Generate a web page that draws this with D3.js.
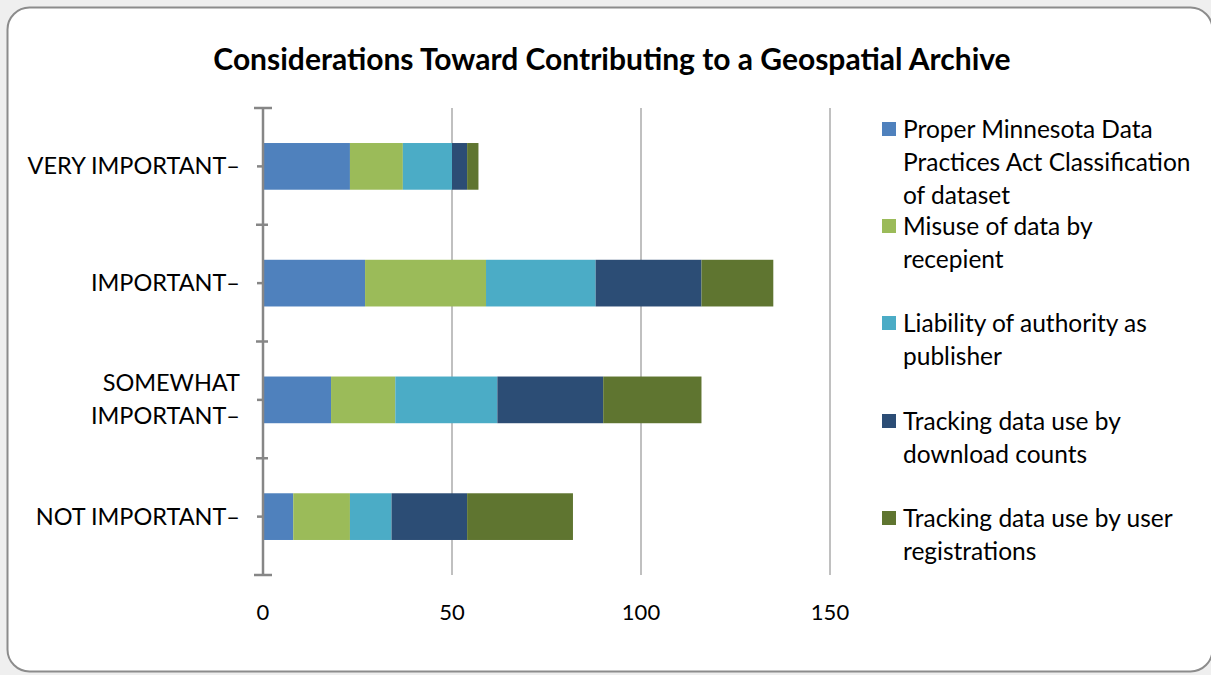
<!DOCTYPE html>
<html><head><meta charset="utf-8">
<script src="https://cdn.jsdelivr.net/npm/d3@7"></script>
<style>body{margin:0;background:#efefef;}svg{display:block;}</style>
</head><body>
<svg id="c" width="1211" height="675"></svg>
<script>
const categories = ["VERY IMPORTANT", "IMPORTANT", "SOMEWHAT IMPORTANT", "NOT IMPORTANT"];
const seriesNames = [
  "Proper Minnesota Data Practices Act Classification of dataset",
  "Misuse of data by recepient",
  "Liability of authority as publisher",
  "Tracking data use by download counts",
  "Tracking data use by user registrations"
];
const properMN   = [23, 27, 18, 8];
const misuse     = [14, 32, 17, 15];
const liability  = [13, 29, 27, 11];
const downloads  = [4, 28, 28, 20];
const registrations = [3, 19, 26, 28];
const xTicks = [0, 50, 100, 150];
const colors = ["#4f81bd", "#9bbb59", "#4bacc6", "#2c4d75", "#5f7530"];
const title = "Considerations Toward Contributing to a Geospatial Archive";
const legendLines = [
  ["Proper Minnesota Data", "Practices Act Classification", "of dataset"],
  ["Misuse of data by", "recepient"],
  ["Liability of authority as", "publisher"],
  ["Tracking data use by", "download counts"],
  ["Tracking data use by user", "registrations"]
];
const catLines = [["VERY IMPORTANT–"], ["IMPORTANT–"], ["SOMEWHAT ", "IMPORTANT–"], ["NOT IMPORTANT–"]];

const seriesVals = [properMN, misuse, liability, downloads, registrations];
const rows = categories.map((c, i) => {
  const o = {cat: c};
  seriesNames.forEach((s, j) => o[s] = seriesVals[j][i]);
  return o;
});
const stack = d3.stack().keys(seriesNames)(rows);

const svg = d3.select("#c");
const font = "Lato, 'Open Sans', sans-serif";
svg.append("rect").attr("x", 7.5).attr("y", 7.5).attr("width", 1205).attr("height", 664)
  .attr("rx", 22).attr("fill", "#fff").attr("stroke", "#8c8c8c").attr("stroke-width", 2);

svg.append("text").attr("x", 612).attr("y", 70).attr("text-anchor", "middle")
  .attr("font-family", font).attr("font-weight", "bold").attr("font-size", 30).attr("fill", "#000")
  .text(title);

const x = d3.scaleLinear().domain([0, 150]).range([263, 830]);
const y = d3.scaleBand().domain(categories).range([108, 575]).paddingInner(0.6).paddingOuter(0.3);

// gridlines
svg.append("g").selectAll("line").data(xTicks.filter(t => t > 0)).join("line")
  .attr("x1", d => x(d)).attr("x2", d => x(d)).attr("y1", 108).attr("y2", 575)
  .attr("stroke", "#c0c0c0").attr("stroke-width", 2);

// bars
svg.append("g").selectAll("g").data(stack).join("g").attr("fill", (d, i) => colors[i])
  .selectAll("rect").data(d => d).join("rect")
  .attr("x", d => x(d[0])).attr("width", d => x(d[1]) - x(d[0]))
  .attr("y", d => y(d.data.cat)).attr("height", y.bandwidth());

// y axis line and ticks
const ax = svg.append("g").attr("stroke", "#868686").attr("stroke-width", 2.5);
ax.append("line").attr("x1", 263).attr("x2", 263).attr("y1", 108).attr("y2", 576);
const bounds = d3.range(categories.length + 1).map(i => 108 + i * y.step());
ax.selectAll(".b").data(bounds).join("line").attr("class", "b")
  .attr("x1", (d, i) => i === 0 || i === bounds.length - 1 ? 254 : 256)
  .attr("x2", (d, i) => i === 0 || i === bounds.length - 1 ? 272 : 268)
  .attr("y1", d => d).attr("y2", d => d);
ax.selectAll(".m").data(categories).join("line").attr("class", "m")
  .attr("x1", 257).attr("x2", 263)
  .attr("y1", d => y(d) + y.bandwidth() / 2).attr("y2", d => y(d) + y.bandwidth() / 2);

// category labels
const cl = svg.append("g").attr("font-family", font).attr("font-size", 23.5).attr("fill", "#000")
  .attr("text-anchor", "end");
categories.forEach((c, i) => {
  const cy = y(c) + y.bandwidth() / 2;
  const lines = catLines[i];
  lines.forEach((l, k) => {
    cl.append("text").attr("x", 240).attr("y", cy + 8 + (k - (lines.length - 1) / 2) * 33).text(l);
  });
});

// x tick labels
svg.append("g").selectAll("text").data(xTicks).join("text")
  .attr("x", d => x(d)).attr("y", 620).attr("text-anchor", "middle")
  .attr("font-family", font).attr("font-size", 22).attr("fill", "#000").text(d => d);

// legend
const legTops = [129, 226, 323, 421, 518];
const lg = svg.append("g").attr("font-family", font).attr("font-size", 24.5).attr("fill", "#000");
seriesNames.forEach((s, i) => {
  lg.append("rect").attr("x", 882).attr("y", legTops[i] - 7).attr("width", 14).attr("height", 14).attr("fill", colors[i]);
  legendLines[i].forEach((l, k) => {
    lg.append("text").attr("x", 903).attr("y", legTops[i] + 9 + k * 33).text(l);
  });
});
</script>
</body></html>
